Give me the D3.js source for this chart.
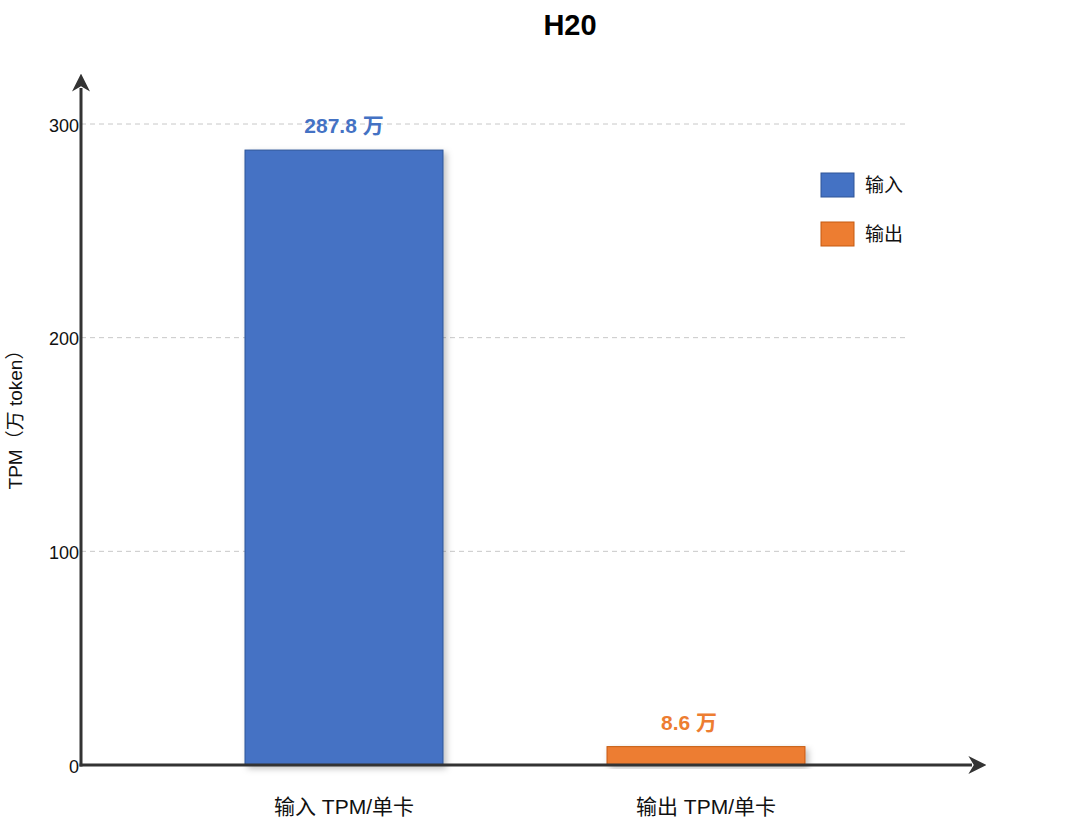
<!DOCTYPE html>
<html><head><meta charset="utf-8">
<script src="https://cdn.jsdelivr.net/npm/d3@7"></script>
<style>
html,body{margin:0;padding:0;background:#fff;}
text{font-family:"Liberation Sans","Noto Sans CJK SC",Arial,sans-serif;}
</style></head>
<body><svg id="c" width="1080" height="840"></svg>
<script>
const categories = ["输入 TPM/单卡", "输出 TPM/单卡"];
const seriesNames = ["输入", "输出"];
const values = [287.8, 8.6];
const valueLabels = ["287.8 万", "8.6 万"];
const yTicks = [0, 100, 200, 300];
const colors = ["#4472C4", "#ED7D31"];
const strokes = ["#2F5597", "#C55A11"];

const svg = d3.select("#c");
const x0 = 81, y0 = 765;
const y = d3.scaleLinear().domain([0, 300]).range([y0, 124]);
const x = d3.scalePoint().domain(categories).range([344, 706]);
const bw = 198;
const labelShift = [0, -17];

const defs = svg.append("defs");
const f = defs.append("filter").attr("id","sh").attr("x","-10%").attr("y","-10%").attr("width","130%").attr("height","130%");
f.append("feDropShadow").attr("dx",3).attr("dy",3).attr("stdDeviation",3).attr("flood-color","#000").attr("flood-opacity",0.25);
defs.append("marker").attr("id","arr").attr("viewBox","0 0 10 10").attr("refX",2).attr("refY",5)
  .attr("markerWidth",6).attr("markerHeight",6).attr("markerUnits","strokeWidth").attr("orient","auto-start-reverse")
  .append("path").attr("d","M0,0 L10,5 L0,10 L3,5 Z").attr("fill","#333");

// title
svg.append("text").attr("x",570).attr("y",35).attr("text-anchor","middle")
  .attr("font-size",29).attr("font-weight","bold").attr("fill","#000").text("H20");

// gridlines
svg.append("g").selectAll("line").data(yTicks.filter(d=>d>0)).join("line")
  .attr("x1",x0).attr("x2",905).attr("y1",d=>y(d)).attr("y2",d=>y(d))
  .attr("stroke","#c8c8c8").attr("stroke-width",1).attr("stroke-dasharray","5,4");

// y axis via d3 axis (ticks only text)
const yAxis = d3.axisLeft(y).tickValues(yTicks).tickSize(0).tickPadding(2).tickFormat(d3.format("d"));
const gy = svg.append("g").attr("transform",`translate(${x0},0)`).call(yAxis);
gy.select(".domain").remove();
gy.selectAll("text").attr("font-size",18).attr("fill","#111")
  .style("font-family",'"Liberation Sans",Arial,sans-serif').attr("dy","0.4em");

// bars
svg.append("g").selectAll("rect").data(values).join("rect")
  .attr("x",(d,i)=>x(categories[i]) - bw/2).attr("width",bw)
  .attr("y",d=>y(d)).attr("height",d=>y0 - y(d))
  .attr("fill",(d,i)=>colors[i]).attr("stroke",(d,i)=>strokes[i]).attr("stroke-width",1)
  .attr("filter","url(#sh)");

// value labels
svg.append("g").selectAll("text").data(values).join("text")
  .attr("x",(d,i)=>x(categories[i]) + labelShift[i]).attr("y",d=>y(d) - 17)
  .attr("text-anchor","middle").attr("font-size",21).attr("font-weight","bold")
  .attr("fill",(d,i)=>colors[i]).text((d,i)=>valueLabels[i]);

// axes lines with arrows
svg.append("line").attr("x1",x0).attr("y1",y0+1.5).attr("x2",x0).attr("y2",88)
  .attr("stroke","#333").attr("stroke-width",3).attr("marker-end","url(#arr)");
svg.append("line").attr("x1",x0-1.5).attr("y1",y0).attr("x2",972).attr("y2",y0)
  .attr("stroke","#333").attr("stroke-width",3).attr("marker-end","url(#arr)");

// x category labels
svg.append("g").selectAll("text").data(categories).join("text")
  .attr("x",d=>x(d)).attr("y",814).attr("text-anchor","middle")
  .attr("font-size",21).attr("fill","#111").text(d=>d);

// y label
svg.append("text").attr("transform","translate(22,415) rotate(-90)").attr("text-anchor","middle")
  .attr("font-size",19).attr("fill","#111").text("TPM（万 token）");

// legend
const lg = svg.append("g").selectAll("g").data(seriesNames).join("g")
  .attr("transform",(d,i)=>`translate(821,${173 + i*49})`);
lg.append("rect").attr("width",33).attr("height",24)
  .attr("fill",(d,i)=>colors[i]).attr("stroke",(d,i)=>strokes[i]).attr("stroke-width",1);
lg.append("text").attr("x",44).attr("y",19).attr("font-size",19).attr("fill","#111").text(d=>d);
</script></body></html>
